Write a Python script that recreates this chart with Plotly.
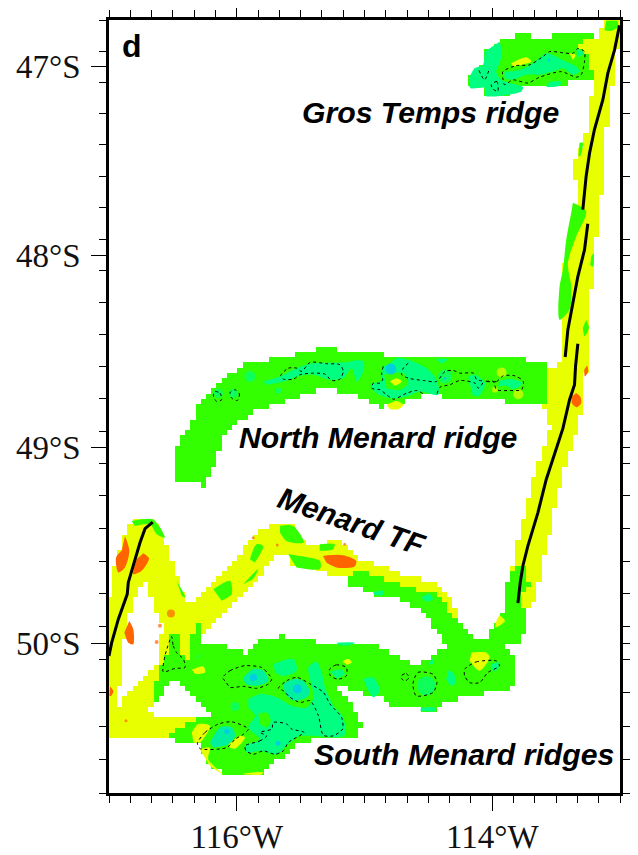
import numpy as np
import plotly.graph_objects as go

east_yellow = [(113.108,46.752),(113.0,46.75),(113.0,46.823),(113.03,46.947),(113.069,47.124),(113.108,47.354),(113.129,47.496),(113.134,47.637),(113.173,47.779),(113.192,47.956),(113.212,48.061),(113.244,48.321),(113.265,48.547),(113.278,48.755),(113.343,48.911),(113.46,49.167),(113.551,49.421),(113.617,49.624),(113.656,49.726),(113.695,49.819),(113.76,49.827),(113.851,49.624),(113.76,49.354),(113.695,49.184),(113.551,48.903),(113.609,48.781),(113.578,48.582),(113.473,48.573),(113.473,48.339),(113.473,48.148),(113.434,48.061),(113.408,47.92),(113.343,47.743),(113.356,47.496),(113.291,47.407),(113.252,47.319),(113.212,47.071),(113.186,47.018),(113.265,47.009),(113.265,46.938),(113.33,46.876),(113.173,46.841)]
west_yellow = [(117,50.474),(117,49.76),(116.966,49.624),(116.849,49.396),(116.823,49.379),(116.653,49.371),(116.562,49.464),(116.405,49.768),(116.379,49.807),(116.288,49.76),(116.027,49.599),(115.871,49.455),(115.688,49.393),(115.558,49.404),(115.467,49.489),(115.349,49.497),(115.194,49.472),(115.142,49.506),(115.064,49.574),(114.881,49.599),(114.725,49.65),(114.464,49.692),(114.36,49.743),(114.269,49.844),(114.308,49.878),(114.542,49.844),(114.699,49.785),(114.934,49.751),(115.155,49.667),(115.234,49.667),(115.349,49.624),(115.558,49.607),(115.61,49.548),(115.675,49.54),(115.766,49.616),(115.897,49.709),(116.027,49.794),(116.184,49.912),(116.288,49.976),(116.288,49.997),(116.392,50.114),(116.549,50.181),(116.64,50.281),(116.705,50.357),(116.314,50.379),(116.288,50.474),(116.523,50.474)]
west_gap = [(116.726,49.675),(116.679,49.76),(116.614,49.878),(116.575,49.929),(116.627,49.997),(116.627,50.114),(116.731,50.173),(116.94,50.323),(116.909,50.164),(116.875,49.963),(116.823,49.794)]

gros_green = [(113.173,46.841),(113.265,46.823),(113.395,46.814),(113.473,46.814),(113.551,46.837),(113.63,46.858),(113.721,46.823),(113.786,46.832),(113.956,46.867),(114.06,46.92),(114.073,46.991),(114.138,47.009),(114.177,47.062),(114.172,47.115),(114.052,47.115),(114.052,47.156),(113.943,47.15),(113.773,47.133),(113.76,47.11),(113.578,47.11),(113.473,47.103),(113.33,47.071),(113.2,47.067),(113.173,47.0)]
north_green = [(113.6,48.79),(113.888,48.79),(113.888,48.742),(114.331,48.742),(114.514,48.729),(114.722,48.773),(114.879,48.799),(115.035,48.738),(115.322,48.695),(115.557,48.755),(115.87,48.811),(115.922,48.856),(115.99,48.859),(116.117,48.964),(116.172,49.091),(116.25,49.198),(116.462,49.178),(116.509,49.091),(116.446,48.964),(116.339,48.856),(116.287,48.755),(116.157,48.677),(115.948,48.573),(115.531,48.516),(115.322,48.486),(114.931,48.509),(114.853,48.521),(114.67,48.544),(114.122,48.53),(113.757,48.547),(113.562,48.561)]
south_green = [(116.51,49.954),(116.418,49.932),(116.476,49.976),(116.398,50.097),(116.366,50.08),(116.353,49.98),(116.327,49.912),(116.275,49.87),(116.288,49.946),(116.288,49.993),(116.158,49.997),(115.923,50.055),(115.793,49.98),(115.662,49.963),(115.351,49.997),(114.96,49.997),(114.803,50.047),(114.595,50.106),(114.412,50.039),(114.347,50.047),(114.412,49.963),(114.542,49.844),(114.699,49.785),(114.934,49.751),(115.064,49.701),(115.155,49.701),(115.142,49.667),(115.038,49.624),(114.881,49.667),(114.595,49.726),(114.464,49.751),(114.36,49.794),(114.36,49.844),(114.282,49.87),(114.138,49.988),(114.008,49.993),(114.008,49.929),(113.93,49.853),(113.872,49.633),(113.765,49.591),(113.713,49.701),(113.768,49.76),(113.76,49.827),(113.729,49.836),(113.76,49.963),(113.794,49.997),(113.922,50.005),(113.851,50.039),(113.812,50.114),(113.807,50.223),(113.93,50.235),(114.23,50.273),(114.438,50.315),(114.443,50.34),(114.563,50.34),(114.626,50.315),(114.79,50.307),(114.855,50.273),(115.064,50.248),(115.129,50.223),(115.208,50.228),(115.116,50.298),(115.077,50.348),(115.025,50.399),(115.051,50.466),(115.351,50.466),(115.414,50.466),(115.414,50.491),(115.558,50.516),(115.584,50.558),(115.688,50.591),(115.793,50.65),(116.105,50.658),(116.21,50.616),(116.288,50.533),(116.288,50.508),(116.353,50.508),(116.484,50.499),(116.523,50.466),(116.484,50.441),(116.314,50.379),(116.158,50.385),(116.484,50.181),(116.648,50.298),(116.622,50.139),(116.549,50.047)]

green_patches = [
    [(113.369,47.725),(113.265,47.77),(113.343,47.903),(113.408,48.043),(113.382,48.165),(113.395,48.286),(113.473,48.339),(113.473,48.165),(113.447,48.078),(113.421,47.92),(113.382,47.779)],
    [(113.317,47.407),(113.291,47.407),(113.312,47.478),(113.325,47.478)],
    [(113.225,48.009),(113.207,47.99),(113.212,48.061),(113.233,48.052)],
    [(113.265,48.339),(113.244,48.382),(113.278,48.425),(113.291,48.382)],
    [(113.108,46.756),(113.022,46.756),(113.017,46.788),(113.069,46.809),(113.121,46.805)],
    [(116.823,49.379),(116.653,49.371),(116.562,49.464),(116.627,49.447),(116.679,49.396),(116.797,49.404)],
    [(115.662,49.404),(115.558,49.404),(115.474,49.489),(115.61,49.481),(115.662,49.438)],
    [(115.597,49.548),(115.506,49.557),(115.349,49.582),(115.349,49.624),(115.532,49.616)],
    [(115.897,49.574),(115.845,49.497),(115.793,49.506),(115.858,49.591)],
    [(116.184,49.726),(116.053,49.684),(116.04,49.751),(116.118,49.785)],
    [(115.949,49.701),(115.832,49.624),(115.871,49.675)],
    [(116.471,49.684),(116.403,49.768),(116.431,49.76)],
    [(115.351,49.497),(115.234,49.497),(115.247,49.523),(115.351,49.531)],
]

spring_patches = [
    [(113.943,46.867),(113.922,46.929),(113.943,46.982),(113.969,47.027),(113.93,47.071),(113.76,47.11),(113.773,47.133),(114.052,47.156),(114.052,47.115),(114.172,47.115),(114.177,47.062),(114.138,47.009),(114.073,46.991),(114.06,46.92)],
    [(113.904,47.027),(113.786,47.018),(113.682,46.982),(113.578,46.929),(113.525,46.938),(113.447,46.965),(113.343,47.0),(113.317,47.027),(113.369,47.044),(113.447,47.009),(113.525,47.027),(113.63,47.044),(113.734,47.044),(113.838,47.071),(113.904,47.062)],
    [(113.343,46.903),(113.278,46.929),(113.33,46.95)],
    [(113.551,47.08),(113.46,47.08),(113.473,47.103),(113.578,47.11)],
    [(115.792,48.66),(115.661,48.634),(115.557,48.599),(115.426,48.568),(115.14,48.561),(115.074,48.551),(115.009,48.556),(115.004,48.599),(115.061,48.66),(115.1,48.591),(115.166,48.643),(115.27,48.651),(115.4,48.625),(115.505,48.63),(115.635,48.66),(115.765,48.677)],
    [(114.858,48.582),(114.8,48.565),(114.748,48.538),(114.657,48.547),(114.514,48.591),(114.435,48.651),(114.422,48.729),(114.566,48.712),(114.67,48.738),(114.8,48.747),(114.905,48.721),(114.952,48.677),(114.866,48.66)],
    [(114.188,48.634),(114.135,48.625),(114.057,48.669),(114.109,48.738),(114.154,48.729)],
    [(113.94,48.655),(113.836,48.648),(113.763,48.669),(113.836,48.7),(113.888,48.683),(113.953,48.686)],
    [(114.441,48.544),(114.344,48.544),(114.396,48.568)],
    [(115.713,50.105),(115.557,50.08),(115.531,50.138),(115.635,50.164),(115.7,50.147)],
    [(115.909,50.281),(115.818,50.256),(115.687,50.272),(115.57,50.314),(115.452,50.323),(115.4,50.272),(115.439,50.122),(115.374,50.093),(115.335,50.147),(115.309,50.222),(115.244,50.314),(115.166,50.373),(115.16,50.465),(115.413,50.465),(115.505,50.465),(115.596,50.507),(115.687,50.557),(115.818,50.54),(115.922,50.549),(115.935,50.515),(115.818,50.482),(115.909,50.423),(115.857,50.365),(115.909,50.323)],
    [(115.27,50.143),(115.179,50.133),(115.153,50.155),(115.218,50.177)],
    [(115.009,50.18),(114.931,50.172),(114.879,50.239),(114.931,50.272),(114.983,50.222)],
    [(114.556,49.768),(114.49,49.751),(114.464,49.777),(114.516,49.79)],
    [(114.934,49.743),(114.855,49.734),(114.855,49.756),(114.921,49.756)],
    [(114.347,50.139),(114.308,50.147),(114.282,50.198),(114.321,50.214),(114.36,50.181)],
    [(114.008,50.106),(113.943,50.097),(113.956,50.131),(113.995,50.144)],
    [(114.556,50.323),(114.451,50.323),(114.443,50.34),(114.563,50.34)],
    [(114.503,50.106),(114.464,50.08),(114.459,50.106)],
    [(115.221,49.997),(115.077,49.997),(115.116,50.01),(115.194,50.01)],
]
teal_patches = [
    [(115.635,50.205),(115.557,50.18),(115.479,50.189),(115.426,50.247),(115.452,50.272),(115.557,50.289),(115.622,50.256)],
    [(115.948,50.172),(115.87,50.13),(115.792,50.138),(115.752,50.189),(115.844,50.214),(115.935,50.205)],
    [(116.209,50.498),(116.131,50.423),(116.039,50.423),(116.013,50.465),(116.065,50.507),(116.183,50.524)],
]
green_insets = [
    [(114.847,48.625),(114.696,48.617),(114.657,48.669),(114.722,48.703),(114.827,48.695)],
    [(115.831,50.356),(115.765,50.348),(115.734,50.39),(115.765,50.423),(115.818,50.406)],
]
yellow_patches = [
    [(113.851,46.982),(113.734,46.95),(113.695,46.973),(113.838,47.0)],
    [(113.395,46.929),(113.348,46.938),(113.369,46.965)],
    [(114.8,48.66),(114.748,48.643),(114.709,48.66),(114.761,48.683)],
    [(114.827,48.782),(114.748,48.761),(114.696,48.782),(114.735,48.804),(114.8,48.804)],
    [(113.943,49.858),(113.901,49.887),(113.977,49.92),(113.963,49.878)],
    [(116.06,50.507),(115.974,50.465),(115.935,50.473),(116.013,50.529),(116.052,50.524)],
    [(116.352,50.133),(116.261,50.117),(116.248,50.147),(116.326,50.155)],
    [(116.352,50.448),(116.3,50.406),(116.209,50.415),(116.287,50.498),(116.339,50.498)],
    [(115.171,50.091),(115.126,50.08),(115.1,50.096),(115.14,50.108)],
    [(114.164,50.047),(114.047,50.047),(114.021,50.072),(114.099,50.139),(114.177,50.089)],
    [(115.168,50.094),(115.129,50.08),(115.103,50.097),(115.129,50.106)],
    [(116.288,50.533),(116.21,50.524),(116.223,50.583),(116.105,50.658),(116.21,50.616)],
    [(115.949,50.653),(115.793,50.647),(115.806,50.658),(115.936,50.658)],
]
orange_patches = [
    [(113.343,48.72),(113.311,48.738),(113.304,48.773),(113.338,48.794),(113.377,48.773),(113.377,48.738)],
    [(113.257,48.576),(113.249,48.608),(113.275,48.634),(113.28,48.599)],
    [(115.325,49.557),(115.168,49.553),(115.064,49.582),(115.077,49.611),(115.221,49.616),(115.299,49.591)],
    [(116.875,49.455),(116.841,49.531),(116.875,49.616),(116.927,49.641),(116.945,49.565),(116.901,49.531)],
    [(116.731,49.543),(116.687,49.569),(116.744,49.633),(116.81,49.65),(116.784,49.574)],
    [(116.841,49.887),(116.81,49.929),(116.81,50.005),(116.849,49.997),(116.88,49.946)],
    [(116.992,50.218),(116.966,50.24),(116.984,50.265),(116.997,50.265)],
]

# Round spots: west, south, diameter class
spring_spots = [(115.896,48.634,11),(115.674,48.707,6),(116.144,48.721,9),(116.026,48.721,9),(114.37,48.634,14),(116.013,50.318,9),(116.3,50.066,3),(114.516,50.214,19)]
yellow_spots = [(113.927,48.613,10),(113.796,48.726,10),(113.979,48.703,6)]
orange_spots = [(116.515,49.849,8),(116.867,50.39,3),(116.601,49.912,4),(116.627,49.993,4),(115.871,49.464,3),(115.683,49.501,3),(115.155,49.497,3)]
blue_spots = [(113.557,46.965,3),(114.793,48.596,11),(114.37,48.643,3),(115.87,50.172,7),(115.526,50.23,9),(116.078,50.443,5),(115.677,50.502,5)]

axis_lines = [
    [(113.004,46.779),(113.043,46.912),(113.095,47.035),(113.134,47.177),(113.2,47.336),(113.238,47.46),(113.265,47.584),(113.291,47.761)],
    [(113.252,47.835),(113.278,47.973),(113.33,48.113),(113.369,48.252),(113.408,48.391),(113.429,48.533)],
    [(113.33,48.464),(113.348,48.582),(113.356,48.677),(113.395,48.755),(113.447,48.903),(113.578,49.167),(113.643,49.337),(113.721,49.506),(113.76,49.607),(113.781,49.692),(113.799,49.797)],
    [(116.658,49.384),(116.718,49.418),(116.757,49.489),(116.81,49.607),(116.849,49.692),(116.857,49.751),(116.927,49.878),(116.979,49.997),(117.0,50.064)],
]

closed_contours = [
    [(113.917,47.027),(113.812,46.995),(113.708,46.991),(113.604,46.947),(113.551,46.92),(113.447,46.926),(113.369,46.929),(113.33,46.903),(113.278,46.92),(113.278,46.973),(113.304,47.044),(113.343,47.057),(113.46,47.027),(113.63,47.057),(113.721,47.088),(113.838,47.071),(113.904,47.097),(113.917,47.062)],
    [(114.008,47.097),(113.963,47.08),(113.956,47.133),(113.995,47.12)],
    [(116.17,48.712),(116.131,48.721),(116.118,48.755),(116.157,48.764),(116.183,48.735)],
    [(116.013,48.703),(115.979,48.724),(115.995,48.759),(116.039,48.747),(116.052,48.717)],
    [(115.656,48.63),(115.596,48.591),(115.531,48.591),(115.492,48.608),(115.426,48.561),(115.296,48.568),(115.192,48.573),(115.166,48.608),(115.192,48.648),(115.257,48.655),(115.309,48.622),(115.4,48.617),(115.505,48.625),(115.557,48.648),(115.635,48.648)],
    [(114.057,48.66),(113.966,48.66),(113.914,48.631),(113.822,48.631),(113.757,48.66),(113.77,48.703),(113.862,48.707),(113.966,48.703),(113.992,48.66)],
    [(116.51,49.966),(116.497,50.013),(116.471,50.047),(116.418,50.08),(116.405,50.122),(116.484,50.127),(116.575,50.144),(116.562,50.064)],
    [(116.112,50.175),(116.052,50.138),(115.935,50.113),(115.805,50.122),(115.752,50.155),(115.726,50.18),(115.752,50.205),(115.844,50.227),(115.948,50.217),(116.052,50.222),(116.091,50.189)],
    [(115.674,50.227),(115.609,50.189),(115.531,50.172),(115.426,50.205),(115.322,50.247),(115.27,50.306),(115.179,50.373),(115.171,50.431),(115.244,50.465),(115.322,50.462),(115.361,50.364),(115.426,50.289),(115.505,50.298),(115.583,50.272),(115.635,50.239)],
    [(116.308,50.502),(116.248,50.448),(116.144,50.406),(116.039,50.395),(115.909,50.431),(115.948,50.457),(116.013,50.482),(116.078,50.524),(116.287,50.529)],
    [(115.935,50.515),(115.818,50.49),(115.765,50.465),(115.818,50.448),(115.726,50.431),(115.713,50.398),(115.609,50.406),(115.57,50.431),(115.473,50.448),(115.596,50.498),(115.635,50.54),(115.7,50.557),(115.792,50.54),(115.87,50.557),(115.927,50.54)],
    [(115.273,50.131),(115.221,50.109),(115.142,50.122),(115.142,50.164),(115.208,50.181),(115.267,50.164)],
    [(114.712,50.164),(114.673,50.152),(114.652,50.173),(114.678,50.189),(114.707,50.181)],
    [(114.621,50.206),(114.582,50.147),(114.464,50.156),(114.433,50.198),(114.464,50.248),(114.595,50.265)],
    [(114.216,50.131),(114.125,50.094),(113.969,50.089),(113.943,50.114),(114.034,50.147),(114.099,50.198),(114.177,50.198),(114.216,50.164)],
]
open_contours = [
    [(114.104,47.021),(114.06,47.071),(114.021,47.009)],
    [(114.853,48.582),(114.866,48.617),(114.858,48.651),(114.879,48.669),(114.931,48.669),(114.944,48.695),(114.879,48.703),(114.827,48.729),(114.774,48.752),(114.67,48.721),(114.592,48.707),(114.54,48.724)],
    [(114.657,48.565),(114.696,48.591),(114.709,48.625),(114.657,48.643),(114.54,48.655),(114.435,48.66),(114.37,48.608),(114.305,48.603),(114.253,48.617),(114.148,48.617),(114.122,48.651),(114.07,48.66),(114.109,48.695),(114.135,48.669),(114.253,48.655),(114.331,48.677),(114.409,48.69),(114.435,48.729)],
]

labels = [("<b>d</b>", 116.82, 46.89, 32, 0), ("<b><i>Gros Temps ridge</i></b>", 114.48, 47.247, 30.2, 0),
          ("<b><i>North Menard ridge</i></b>", 114.897, 48.948, 30.2, 0), ("<b><i>Menard TF</i></b>", 115.1, 49.38, 30.2, 19),
          ("<b><i>South Menard ridges</i></b>", 114.224, 50.558, 30.2, 0)]

lat_ticks = [47, 48, 49, 50]
lon_ticks = [116, 114]

YELLOW, GREEN, SPRING, TEAL, BLUE, ORANGE = "#e8ff00", "#33ff00", "#00ff80", "#00f0a0", "#00bfff", "#ff6400"


def merc(s):
    s = np.asarray(s, dtype=float)
    return -np.degrees(np.log(np.tan(np.pi / 4 + np.radians(s) / 2)))


def cells_inside(poly, X, Y):
    w, s = zip(*poly)
    px, py = -np.array(w), merc(s)
    inside = np.zeros(X.shape, dtype=bool)
    j = len(px) - 1
    for i in range(len(px)):
        inside ^= ((py[i] > Y) != (py[j] > Y)) & (X < (px[j] - px[i]) * (Y - py[i]) / (py[j] - py[i] + 1e-12) + px[i])
        j = i
    return inside


fig = go.Figure()

# The swaths are a coarse grid in the source, so their outlines are sampled onto map cells.
cell = 0.041
grid_x = np.arange(-117, -113 + cell, cell)
grid_y = np.arange(float(merc(50.75)), float(merc(46.75)) + cell, cell)
X, Y = np.meshgrid(grid_x, grid_y)
swath = np.full(X.shape, np.nan)
for poly, value in [(gros_green, 0), (east_yellow, 1), (north_green, 0), (west_yellow, 1), (west_gap, np.nan), (south_green, 0)]:
    swath[cells_inside(poly, X, Y)] = value
fig.add_trace(go.Heatmap(x=grid_x, y=grid_y, z=swath, zmin=0, zmax=1, showscale=False, zsmooth=False, hoverinfo="skip",
                         colorscale=[[0, GREEN], [0.5, GREEN], [0.5, YELLOW], [1, YELLOW]]))


def add_fill(poly, color):
    w, s = zip(*poly)
    fig.add_trace(go.Scatter(x=-np.array(w), y=merc(s), mode="lines", fill="toself", fillcolor=color,
                             line=dict(width=0, color=color, shape="spline", smoothing=0.8), hoverinfo="skip"))


def add_spots(spots, color):
    w, s, d = zip(*spots)
    fig.add_trace(go.Scatter(x=-np.array(w), y=merc(s), mode="markers",
                             marker=dict(color=color, size=list(d), line=dict(width=0)), hoverinfo="skip"))


def add_line(pts, width, dash=None, close=False, smooth=False):
    pts = list(pts) + ([pts[0]] if close else [])
    w, s = zip(*pts)
    line = dict(color="black", width=width, dash=dash)
    if smooth:
        line.update(shape="spline", smoothing=0.7)
    fig.add_trace(go.Scatter(x=-np.array(w), y=merc(s), mode="lines", line=line, hoverinfo="skip"))


for group, col in [(green_patches, GREEN), (spring_patches, SPRING), (teal_patches, TEAL), (green_insets, GREEN),
                   (yellow_patches, YELLOW), (orange_patches, ORANGE)]:
    for poly in group:
        add_fill(poly, col)
for spots, col in [(spring_spots, SPRING), (yellow_spots, YELLOW), (orange_spots, ORANGE), (blue_spots, BLUE)]:
    add_spots(spots, col)
for c in closed_contours:
    add_line(c, 1, "3px,3px", True, True)
for c in open_contours:
    add_line(c, 1, "3px,3px", False, True)
for c in axis_lines:
    add_line(c, 3)

annotations = [dict(x=-w, y=float(merc(s)), text=t, showarrow=False, textangle=a, xanchor="center", yanchor="middle",
                    font=dict(family="Liberation Sans", size=sz, color="black")) for t, w, s, sz, a in labels]

minor_lon = [-117 + i / 6 for i in range(25)]
minor_lat = [float(merc(46.75 + i / 6)) for i in range(25)]
tick_font = dict(family="Liberation Serif", size=33, color="#111111")
axis_common = dict(showgrid=False, zeroline=False, showline=True, linecolor="black", linewidth=2.5, mirror="allticks",
                   ticks="outside", ticklen=15, tickwidth=1.2, tickcolor="black", tickfont=tick_font, tickmode="array",
                   automargin=False)
fig.update_layout(
    width=630, height=847, margin=dict(l=101, r=17.5, t=12, b=62), autosize=False,
    paper_bgcolor="white", plot_bgcolor="white", showlegend=False, annotations=annotations,
    xaxis=dict(range=[-117, -113], tickvals=[-w for w in lon_ticks], ticktext=[f"{w}°W" for w in lon_ticks],
               minor=dict(tickvals=minor_lon, ticks="outside", ticklen=7, tickwidth=1.2, tickcolor="black", showgrid=False),
               ticklabelstandoff=-2, **axis_common),
    yaxis=dict(range=[float(merc(50.75)), float(merc(46.75))], tickvals=[float(merc(s)) for s in lat_ticks],
               ticktext=[f"{s}°S" for s in lat_ticks],
               minor=dict(tickvals=minor_lat, ticks="outside", ticklen=7, tickwidth=1.2, tickcolor="black", showgrid=False),
               ticklabelstandoff=4, **axis_common),
)
fig.write_html("out.html")
